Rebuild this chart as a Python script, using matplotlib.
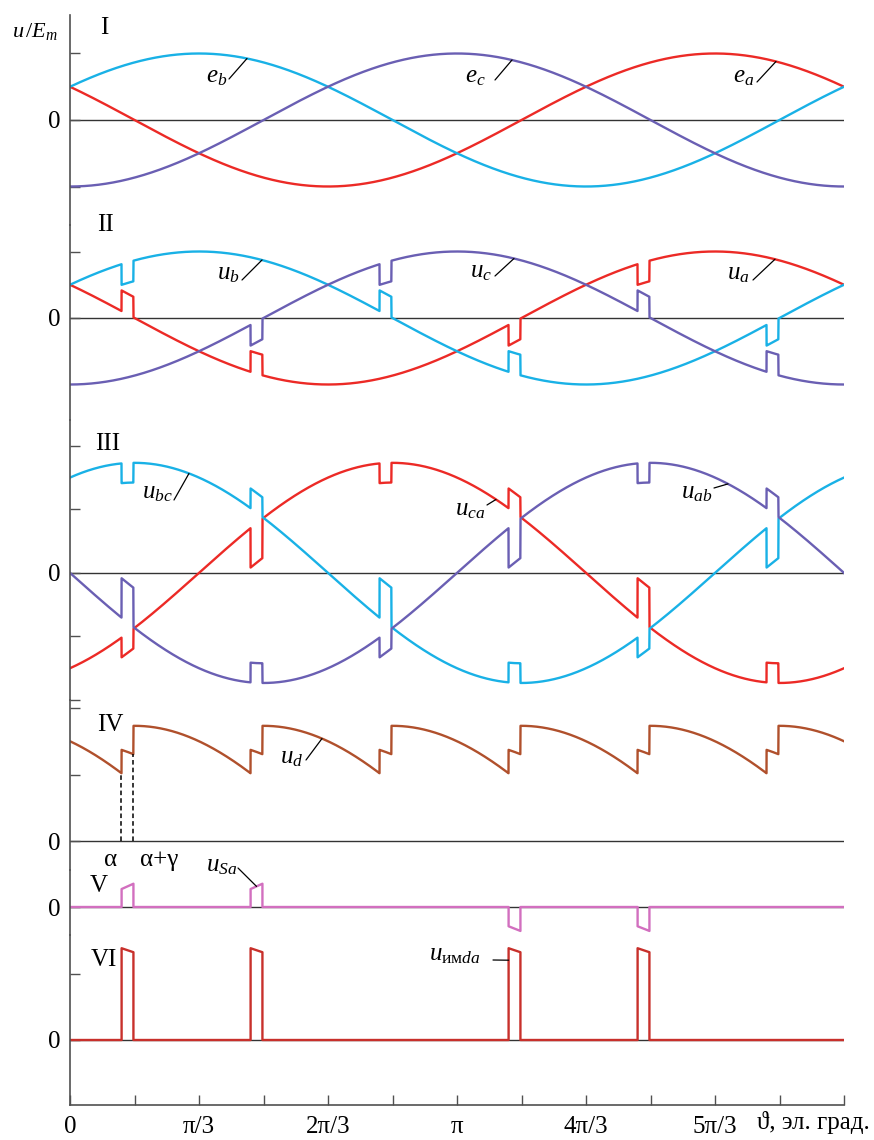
import numpy as np
import matplotlib.pyplot as plt

# ---- данные (в единицах E_m, углы в эл. градусах) ----
PHASES = ['a', 'b', 'c']
PHASE_SHIFT = [60, -60, 180]          # e_p = cos(theta + shift)
ALPHA = 24.0                          # угол управления
GAMMA = 5.5                           # угол коммутации
NOTCH = 0.31                          # провал/подъём фазных напряжений при коммутации

COMM_AT = [0, 60, 120, 180, 240, 300]            # + ALPHA
COMM_GROUP = ['up', 'low', 'up', 'low', 'up', 'low']
COMM_OUT = ['a', 'c', 'b', 'a', 'c', 'b']
COMM_IN = ['b', 'a', 'c', 'b', 'a', 'c']

US_AT = [0, 60, 180, 240]                        # импульсы u_Sa, + ALPHA
US_START = [0.27, 0.27, -0.29, -0.29]
US_END = [0.35, 0.35, -0.36, -0.36]

UIMD_AT = [0, 60, 180, 240]                      # импульсы u_имда, + ALPHA
UIMD_START = [1.38, 1.38, 1.38, 1.38]
UIMD_END = [1.32, 1.32, 1.32, 1.32]

RED = '#ec2a26'
CYAN = '#19b1e6'
PURPLE = '#6a5fb3'
BROWN = '#b0502c'
PINK = '#d26fbf'
DARKRED = '#c8302b'
AXC = '#505050'

plt.rcParams['font.family'] = ['Liberation Serif', 'DejaVu Serif']
plt.rcParams['mathtext.fontset'] = 'custom'
plt.rcParams['mathtext.rm'] = 'Liberation Serif'
plt.rcParams['mathtext.it'] = 'Liberation Serif:italic'
plt.rcParams['mathtext.bf'] = 'Liberation Serif:bold'

# ---- расчёт кривых ----
th = np.linspace(0, 360, 7201)
e = {p: np.cos(np.radians(th + s)) for p, s in zip(PHASES, PHASE_SHIFT)}
u = {p: e[p].copy() for p in PHASES}
idx = {'up': np.zeros(th.shape, int), 'low': np.full(th.shape, 2)}
comm = {'up': np.zeros(th.shape, bool), 'low': np.zeros(th.shape, bool)}
pair = {'up': [None] * len(th), 'low': [None] * len(th)}
for t0, g, po, pi in zip(COMM_AT, COMM_GROUP, COMM_OUT, COMM_IN):
    t = t0 + ALPHA
    m = (th >= t) & (th < t + GAMMA)
    sgn = np.sign(e[pi] - e[po])
    u[po][m] += NOTCH * sgn[m]
    u[pi][m] -= NOTCH * sgn[m]
    idx[g][th >= t + GAMMA] = PHASES.index(pi)
    comm[g] |= m
    for k in np.where(m)[0]:
        pair[g][k] = (po, pi)

grp = {}
for g in ['up', 'low']:
    v = np.choose(idx[g], [u['a'], u['b'], u['c']])
    for k in np.where(comm[g])[0]:
        po, pi = pair[g][k]
        v[k] = 0.5 * (u[po][k] + u[pi][k])
    grp[g] = v
ud = grp['up'] - grp['low']
u_bc = u['b'] - u['c']
u_ca = u['c'] - u['a']
u_ab = u['a'] - u['b']


def pulses(at, start, end):
    xs, ys = [0.0], [0.0]
    for t0, s, f in zip(at, start, end):
        t = t0 + ALPHA
        xs += [t, t, t + GAMMA, t + GAMMA]
        ys += [0, s, f, 0]
    xs.append(360.0)
    ys.append(0.0)
    return xs, ys


us_x, us_y = pulses(US_AT, US_START, US_END)
uim_x, uim_y = pulses(UIMD_AT, UIMD_START, UIMD_END)

# ---- разметка ----
W, H = 874, 1140
L, R = 70, 844
EDGES = [15, 225, 420, 700, 870, 935, 1105]
ZERO = [120, 318, 580, 841, 907, 1040]
UNIT = 66.5
YTICKS = [[1, -1], [1], [2, 1, -1, -2], [2, 1], [], [1]]


def fp(x, y):
    return x / W, 1 - y / H


fig = plt.figure(figsize=(W / 100, H / 100), dpi=100)
axes = []
for i in range(6):
    top, bot, z = EDGES[i], EDGES[i + 1], ZERO[i]
    ax = fig.add_axes([L / W, 1 - bot / H, (R - L) / W, (bot - top) / H])
    ax.set_xlim(0, 360)
    ax.set_ylim(-(bot - z) / UNIT, (z - top) / UNIT)
    for s in ['top', 'right', 'bottom']:
        ax.spines[s].set_visible(False)
    ax.spines['left'].set_color(AXC)
    ax.spines['left'].set_linewidth(1.2)
    ax.set_yticks([0] + YTICKS[i])
    ax.set_yticklabels(['0'] + [''] * len(YTICKS[i]))
    ax.tick_params(axis='y', direction='in', length=7, width=1, color=AXC,
                   labelsize=18, pad=7)
    ax.set_xticks([])
    ax.axhline(0, color='#333333', lw=1.0, zorder=1)
    ax.patch.set_visible(False)
    axes.append(ax)

ax1, ax2, ax3, ax4, ax5, ax6 = axes
lw = 1.7
ax1.plot(th, e['a'], color=RED, lw=lw)
ax1.plot(th, e['b'], color=CYAN, lw=lw)
ax1.plot(th, e['c'], color=PURPLE, lw=lw)

ax2.plot(th, u['a'], color=RED, lw=lw)
ax2.plot(th, u['b'], color=CYAN, lw=lw)
ax2.plot(th, u['c'], color=PURPLE, lw=lw)

ax3.plot(th, u_ca, color=RED, lw=lw)
ax3.plot(th, u_bc, color=CYAN, lw=lw)
ax3.plot(th, u_ab, color=PURPLE, lw=lw)

ax4.plot(th, ud, color=BROWN, lw=lw)
ax5.plot(us_x, us_y, color=PINK, lw=lw)
ax6.plot(uim_x, uim_y, color=DARKRED, lw=lw)

# нижняя ось
ax6.spines['bottom'].set_visible(True)
ax6.spines['bottom'].set_color(AXC)
ax6.spines['bottom'].set_linewidth(1.2)
ax6.set_xticks(np.arange(0, 361, 30))
ax6.set_xticklabels(['0', '', 'π/3', '', '2π/3', '', 'π', '', '4π/3', '', '5π/3', '', ''])
ax6.tick_params(axis='x', direction='in', length=7, width=1, color=AXC,
                labelsize=18, pad=8)
fig.text(*fp(813, 1123), 'ϑ, эл. град.', fontsize=18, ha='center', va='center')

# штриховые линии α и α+γ
k1 = np.searchsorted(th, ALPHA) - 1
k2 = np.searchsorted(th, ALPHA + GAMMA) - 1
ax4.vlines([th[k1], th[k2]], 0, [ud[k1], ud[k2]], colors='black', lw=1.1,
           linestyles=(0, (3, 2)), zorder=3)

# подписи
fig.text(*fp(35, 32), r'$u\,/E_m$', fontsize=16, ha='center', va='center')
for s, x, y in [('I', 104, 28), ('II', 105, 225), ('III', 108, 444),
                ('IV', 110, 725), ('V', 99, 886), ('VI', 104, 960)]:
    fig.text(*fp(x, y), s, fontsize=18, ha='center', va='center')
fig.text(*fp(111, 860), 'α', fontsize=18, ha='center', va='center')
fig.text(*fp(159, 860), 'α+γ', fontsize=18, ha='center', va='center')


def tag(ax, s, tx, ty, lx, ly, ang, yv):
    fig.text(*fp(tx, ty), s, fontsize=18, ha='center', va='center')
    ax.annotate('', xy=(ang, yv), xycoords='data', xytext=fp(lx, ly),
                textcoords='figure fraction',
                arrowprops=dict(arrowstyle='-', lw=0.9, color='black',
                                shrinkA=0, shrinkB=0))


def at(arr, ang):
    return np.interp(ang, th, arr)


def px2deg(x):
    return (x - L) / (R - L) * 360


for ax, s, tx, ty, lx, ly, ex, arr in [
        (ax1, r'$e_b$', 217, 77, 229, 79, 247, e['b']),
        (ax1, r'$e_c$', 475, 77, 495, 80, 512, e['c']),
        (ax1, r'$e_a$', 744, 77, 757, 82, 776, e['a']),
        (ax2, r'$u_b$', 228, 274, 242, 280, 262, u['b']),
        (ax2, r'$u_c$', 481, 272, 495, 276, 514, u['c']),
        (ax2, r'$u_a$', 738, 274, 753, 280, 775, u['a']),
        (ax3, r'$u_{bc}$', 157, 493, 174, 500, 189, u_bc),
        (ax3, r'$u_{ca}$', 470, 510, 487, 505, 496, u_ca),
        (ax3, r'$u_{ab}$', 697, 493, 714, 488, 728, u_ab),
        (ax4, r'$u_d$', 292, 758, 306, 760, 322, ud)]:
    ang = px2deg(ex)
    tag(ax, s, tx, ty, lx, ly, ang, at(arr, ang))

# u_Sa и u_имда
a1 = US_AT[1] + ALPHA + GAMMA / 2
tag(ax5, r'$u_{Sa}$', 222, 866, 238, 868, a1, 0.5 * (US_START[1] + US_END[1]))
a3 = UIMD_AT[2] + ALPHA
tag(ax6, r'$u_{\mathrm{им}da}$', 455, 955, 493, 960, a3, 1.2)

fig.savefig('out.png', dpi=100)
